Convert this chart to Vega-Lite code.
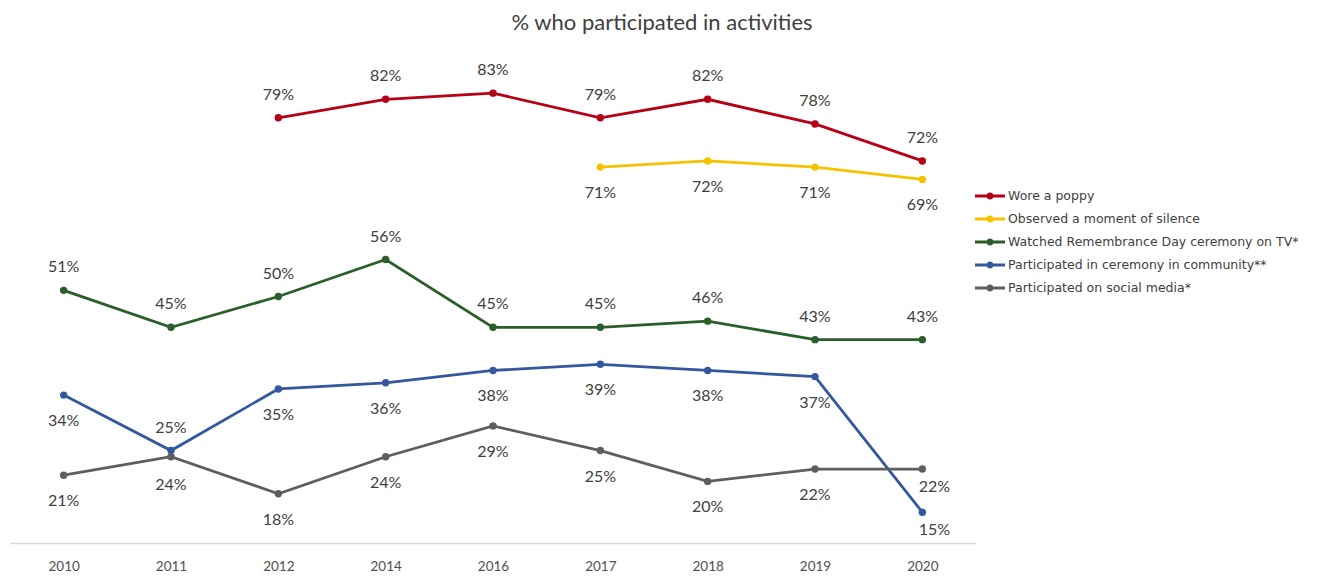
{
  "$schema": "https://vega.github.io/schema/vega-lite/v6.json",
  "autosize": {"type": "none"},
  "width": 966,
  "height": 493,
  "padding": {"left": 10, "top": 50, "right": 349, "bottom": 39},
  "background": "white",
  "config": {"view": {"stroke": null}, "font": "Lato"},
  "title": {"text": "% who participated in activities", "anchor": "middle", "dx": 169, "fontSize": 22, "fontWeight": "normal", "color": "#404040", "font": "Lato", "offset": 15},
  "data": {"values": [
    {"series": "Wore a poppy", "year": "2012", "value": 0.79},
    {"series": "Wore a poppy", "year": "2014", "value": 0.82},
    {"series": "Wore a poppy", "year": "2016", "value": 0.83},
    {"series": "Wore a poppy", "year": "2017", "value": 0.79},
    {"series": "Wore a poppy", "year": "2018", "value": 0.82},
    {"series": "Wore a poppy", "year": "2019", "value": 0.78},
    {"series": "Wore a poppy", "year": "2020", "value": 0.72},
    {"series": "Observed a moment of silence", "year": "2017", "value": 0.71},
    {"series": "Observed a moment of silence", "year": "2018", "value": 0.72},
    {"series": "Observed a moment of silence", "year": "2019", "value": 0.71},
    {"series": "Observed a moment of silence", "year": "2020", "value": 0.69},
    {"series": "Watched Remembrance Day ceremony on TV*", "year": "2010", "value": 0.51},
    {"series": "Watched Remembrance Day ceremony on TV*", "year": "2011", "value": 0.45},
    {"series": "Watched Remembrance Day ceremony on TV*", "year": "2012", "value": 0.50},
    {"series": "Watched Remembrance Day ceremony on TV*", "year": "2014", "value": 0.56},
    {"series": "Watched Remembrance Day ceremony on TV*", "year": "2016", "value": 0.45},
    {"series": "Watched Remembrance Day ceremony on TV*", "year": "2017", "value": 0.45},
    {"series": "Watched Remembrance Day ceremony on TV*", "year": "2018", "value": 0.46},
    {"series": "Watched Remembrance Day ceremony on TV*", "year": "2019", "value": 0.43},
    {"series": "Watched Remembrance Day ceremony on TV*", "year": "2020", "value": 0.43},
    {"series": "Participated in ceremony in community**", "year": "2010", "value": 0.34},
    {"series": "Participated in ceremony in community**", "year": "2011", "value": 0.25},
    {"series": "Participated in ceremony in community**", "year": "2012", "value": 0.35},
    {"series": "Participated in ceremony in community**", "year": "2014", "value": 0.36},
    {"series": "Participated in ceremony in community**", "year": "2016", "value": 0.38},
    {"series": "Participated in ceremony in community**", "year": "2017", "value": 0.39},
    {"series": "Participated in ceremony in community**", "year": "2018", "value": 0.38},
    {"series": "Participated in ceremony in community**", "year": "2019", "value": 0.37},
    {"series": "Participated in ceremony in community**", "year": "2020", "value": 0.15},
    {"series": "Participated on social media*", "year": "2010", "value": 0.21},
    {"series": "Participated on social media*", "year": "2011", "value": 0.24},
    {"series": "Participated on social media*", "year": "2012", "value": 0.18},
    {"series": "Participated on social media*", "year": "2014", "value": 0.24},
    {"series": "Participated on social media*", "year": "2016", "value": 0.29},
    {"series": "Participated on social media*", "year": "2017", "value": 0.25},
    {"series": "Participated on social media*", "year": "2018", "value": 0.20},
    {"series": "Participated on social media*", "year": "2019", "value": 0.22},
    {"series": "Participated on social media*", "year": "2020", "value": 0.22}
  ]},
  "encoding": {
    "x": {"field": "year", "type": "ordinal", "scale": {"type": "point", "padding": 0.5},
      "axis": {"title": null, "labelAngle": 0, "ticks": false, "domainColor": "#d9d9d9", "domainWidth": 1.5, "labelFontSize": 13.5, "labelColor": "#505050", "labelFont": "Lato", "labelPadding": 16, "grid": false}},
    "y": {"field": "value", "type": "quantitative", "scale": {"domain": [0.10, 0.90], "nice": false, "zero": false}, "axis": null}
  },
  "layer": [
    {
      "mark": {"type": "line", "strokeWidth": 2.8},
      "encoding": {
        "color": {"field": "series", "type": "nominal",
          "scale": {"domain": ["Wore a poppy", "Observed a moment of silence", "Watched Remembrance Day ceremony on TV*", "Participated in ceremony in community**", "Participated on social media*"],
                    "range": ["#B50015", "#F5C200", "#2A5E2A", "#33589E", "#5E5E5E"]},
          "legend": {"title": null, "orient": "none", "legendX": 970, "legendY": 136,
            "symbolType": "M-1.5,-0.14 H1.5 V0.14 H-1.5 Z M0,-0.36 A0.36,0.36 0 1 1 0,0.36 A0.36,0.36 0 1 1 0,-0.36 Z",
            "symbolSize": 400, "symbolStrokeWidth": 0, "symbolFillColor": null, "labelOffset": 8, "labelFontSize": 12.5, "labelColor": "#404040", "labelFont": "DejaVu Sans", "rowPadding": 6, "labelLimit": 400}
        }
      }
    },
    {
      "mark": {"type": "point", "filled": true, "size": 55, "opacity": 1},
      "encoding": {"color": {"field": "series", "type": "nominal", "legend": null}}
    },
    {
      "transform": [{"filter": "datum.series == 'Wore a poppy' || datum.series == 'Watched Remembrance Day ceremony on TV*' || (datum.series == 'Participated in ceremony in community**' && datum.year == '2011')"}],
      "mark": {"type": "text", "dy": -23, "fontSize": 16, "color": "#404040", "font": "Lato"},
      "encoding": {"text": {"field": "value", "type": "quantitative", "format": ".0%"}}
    },
    {
      "transform": [{"filter": "(datum.series == 'Observed a moment of silence' || datum.series == 'Participated in ceremony in community**' || datum.series == 'Participated on social media*') && datum.year != '2011' && !(datum.year == '2020' && datum.series != 'Observed a moment of silence')"}],
      "mark": {"type": "text", "dy": 26, "fontSize": 16, "color": "#404040", "font": "Lato"},
      "encoding": {"text": {"field": "value", "type": "quantitative", "format": ".0%"}}
    },
    {
      "transform": [{"filter": "datum.series == 'Participated on social media*' && datum.year == '2011'"}],
      "mark": {"type": "text", "dy": 28, "fontSize": 16, "color": "#404040", "font": "Lato"},
      "encoding": {"text": {"field": "value", "type": "quantitative", "format": ".0%"}}
    },
    {
      "transform": [{"filter": "datum.year == '2020' && (datum.series == 'Participated in ceremony in community**' || datum.series == 'Participated on social media*')"}],
      "mark": {"type": "text", "dy": 18, "dx": 12, "fontSize": 16, "color": "#404040", "font": "Lato"},
      "encoding": {"text": {"field": "value", "type": "quantitative", "format": ".0%"}}
    }
  ]
}
